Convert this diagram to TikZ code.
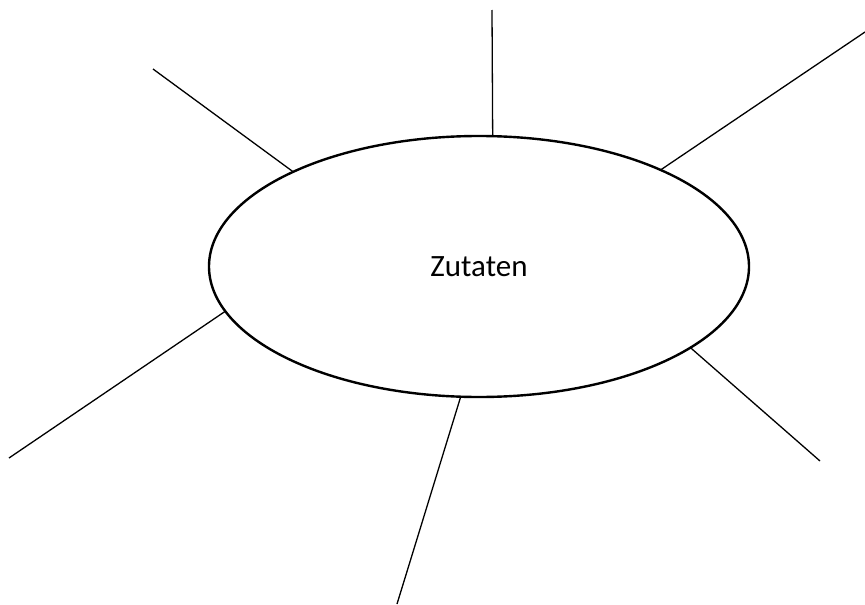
\documentclass[tikz,border=0pt]{standalone}
\usepackage{fontspec}
\setmainfont{Carlito}
\usetikzlibrary{shapes.geometric}

\begin{document}
\begin{tikzpicture}[
  x=1pt,y=-1pt,
  topic/.style={draw,ellipse,line width=2.4pt,inner sep=0pt,outer sep=0pt,
                minimum width=540pt,minimum height=261pt,
                font=\fontsize{31}{37}\selectfont},
  ray/.style={line width=1.3pt}
]
  \useasboundingbox (0,0) rectangle (865,605);
  \node[topic] (core) at (479,266.5) {Zutaten};
  % free ends of the rays
  \coordinate (tipN) at (492,10);
  \coordinate (tipNE) at (865,32);
  \coordinate (tipNW) at (153,69);
  \coordinate (tipSW) at (9,458);
  \coordinate (tipS) at (397,604);
  \coordinate (tipSE) at (820,461);
  \draw[ray] (core.84.4) -- (tipN);
  \draw[ray] (core.28.7) -- (tipNE);
  \draw[ray] (core.153.9) -- (tipNW);
  \draw[ray] (core.190.7) -- (tipSW);
  \draw[ray] (core.262.6) -- (tipS);
  \draw[ray] (core.339.5) -- (tipSE);
\end{tikzpicture}
\end{document}
